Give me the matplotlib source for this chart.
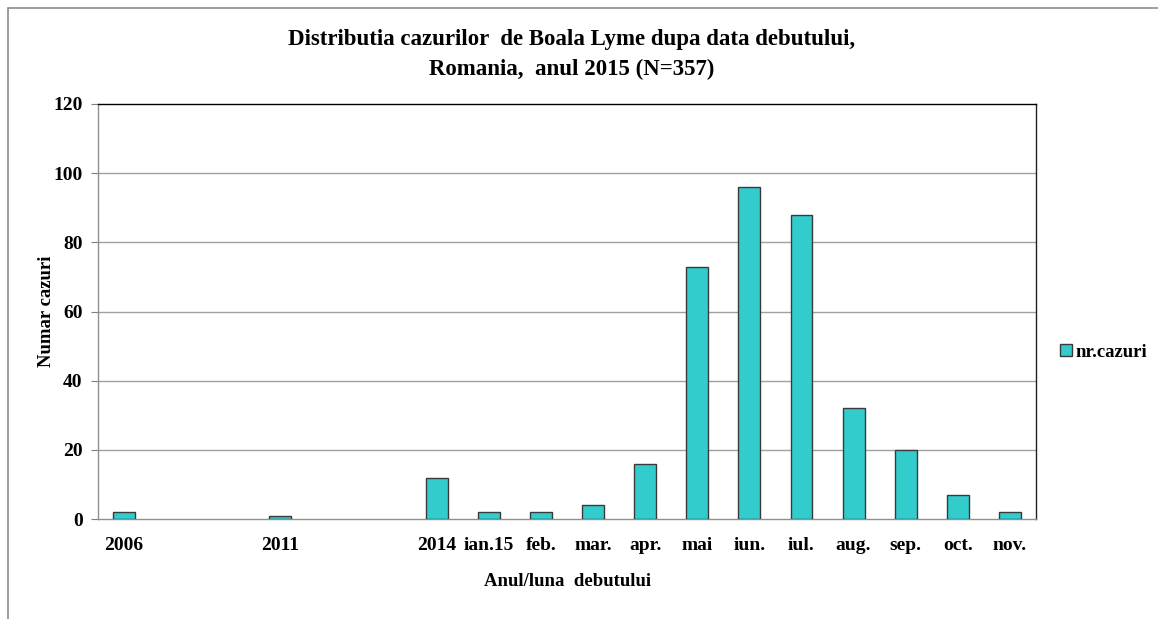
import matplotlib
matplotlib.use("Agg")
import matplotlib.pyplot as plt
from matplotlib.patches import Rectangle, Patch

plt.rcParams['font.family'] = ['Liberation Serif', 'DejaVu Serif']
plt.rcParams['font.weight'] = 'bold'

categories = ["2006", "", "", "2011", "", "", "2014", "ian.15", "feb.", "mar.",
              "apr.", "mai", "iun.", "iul.", "aug.", "sep.", "oct.", "nov."]
cases = [2, 0, 0, 1, 0, 0, 12, 2, 2, 4, 16, 73, 96, 88, 32, 20, 7, 2]
y_ticks = [0, 20, 40, 60, 80, 100, 120]

bar_color = "#33CCCC"
edge_color = "#3A3A3A"

fig = plt.figure(figsize=(11.58, 6.19), dpi=100)
ax = fig.add_axes([98 / 1158, 1 - 519 / 619, (1036 - 98) / 1158, (519 - 104) / 619])

x = list(range(len(categories)))
drawn_x = [i for i, v in zip(x, cases) if v > 0]
drawn_v = [v for v in cases if v > 0]
ax.bar(drawn_x, drawn_v, width=0.42, color=bar_color, edgecolor=edge_color,
       linewidth=1.0, zorder=3, label="nr.cazuri")

ax.set_xlim(-0.5, len(categories) - 0.5)
ax.set_ylim(0, 120)
ax.set_yticks(y_ticks)
ax.set_yticklabels([str(t) for t in y_ticks], fontsize=14, fontweight='bold')
ax.set_xticks(x)
ax.set_xticklabels(categories, fontsize=14, fontweight='bold')
ax.tick_params(axis='x', length=0, pad=13)
ax.tick_params(axis='y', length=5, color="#808080", pad=6)

for t in y_ticks[1:-1]:
    ax.axhline(t, color="#A0A0A0", linewidth=1.0, zorder=1)

ax.spines['left'].set_color("#909090")
ax.spines['bottom'].set_color("#909090")
ax.spines['top'].set_color("#000000")
ax.spines['right'].set_color("#202020")
for s in ax.spines.values():
    s.set_linewidth(1.0)

ax.set_ylabel("Numar cazuri", fontsize=13.5, fontweight='bold', labelpad=-1)
ax.set_xlabel("Anul/luna  debutului", fontsize=13.5, fontweight='bold', labelpad=14)

fig.text(572 / 1158, 1 - 40 / 619, "Distributia cazurilor  de Boala Lyme dupa data debutului,",
         ha='center', va='center', fontsize=16.5, fontweight='bold')
fig.text(572 / 1158, 1 - 69 / 619, "Romania,  anul 2015 (N=357)",
         ha='center', va='center', fontsize=16.5, fontweight='bold')

handle = Patch(facecolor=bar_color, edgecolor=edge_color, linewidth=1.0)
fig.legend([handle], ["nr.cazuri"], loc='center left',
           bbox_to_anchor=(1060 / 1158, 1 - 352 / 619), frameon=False,
           prop={'size': 13.5, 'weight': 'bold'}, handlelength=0.65, handleheight=0.65,
           handletextpad=0.2, borderaxespad=0, borderpad=0)

# outer chart frame
fig.patches.append(Rectangle((8 / 1158, -0.1), 1.2, 1 - 8 / 619 + 0.1,
                             transform=fig.transFigure, fill=False,
                             edgecolor="#8C8C8C", linewidth=1.2))

fig.savefig("out.png", dpi=100)
